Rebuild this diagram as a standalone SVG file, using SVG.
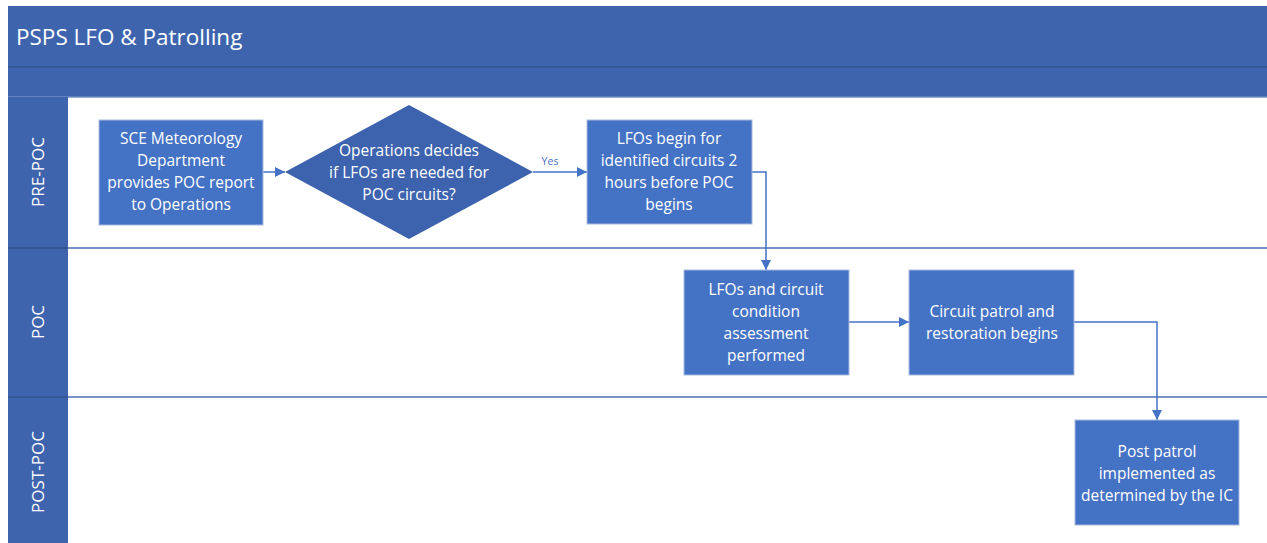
<svg xmlns="http://www.w3.org/2000/svg" width="1267" height="543" viewBox="0 0 1267 543">
<style>
.band{fill:#3E64AE}
.sep{stroke:#345697;stroke-width:2}
.lane{stroke:#4A6FB8;stroke-width:1.5;fill:none}
.box{fill:#4472C4;stroke:#A9BBE0;stroke-width:1}
.dia{fill:#3D63AE}
.t{font-family:"Open Sans","Liberation Sans",sans-serif;font-size:15.5px;fill:#FFFFFF;text-anchor:middle}
.lbl{font-family:"Open Sans","Liberation Sans",sans-serif;font-size:17px;fill:#FFFFFF;text-anchor:middle}
.title{font-family:"Open Sans","Liberation Sans",sans-serif;font-size:22.5px;fill:#FFFFFF}
.yes{font-family:"Open Sans","Liberation Sans",sans-serif;font-size:10.5px;fill:#4472C4;text-anchor:middle}
.con{stroke:#4472C4;stroke-width:1.5;fill:none;marker-end:url(#ah)}
</style>
<defs>
<marker id="ah" viewBox="0 0 10 10" refX="10" refY="5" markerWidth="7" markerHeight="7" markerUnits="strokeWidth" orient="auto">
<path d="M0,0 L10,5 L0,10 z" fill="#4472C4"/>
</marker>
</defs>
<rect x="0" y="0" width="1267" height="543" fill="#FFFFFF"/>
<g id="pool">
<rect class="band" x="8" y="6" width="1259" height="91"/>
<line class="sep" x1="8" y1="67" x2="1267" y2="67"/>
<line x1="8" y1="97" x2="1267" y2="97" stroke="#6F8CC6" stroke-width="1.5"/>
<text class="title" x="16" y="45">PSPS LFO &amp; Patrolling</text>
</g>
<g id="lanes">
<rect class="band" x="8" y="97" width="60" height="446"/>
<line class="sep" x1="8" y1="248" x2="68" y2="248"/>
<line class="sep" x1="8" y1="397" x2="68" y2="397"/>
<line class="lane" x1="68" y1="248" x2="1267" y2="248"/>
<line class="lane" x1="68" y1="397" x2="1267" y2="397"/>
<text class="lbl" transform="translate(44,172) rotate(-90)">PRE-POC</text>
<text class="lbl" transform="translate(44,322) rotate(-90)">POC</text>
<text class="lbl" transform="translate(44,472) rotate(-90)">POST-POC</text>
</g>
<g id="connectors">
<line class="con" x1="263" y1="172" x2="285" y2="172"/>
<line class="con" x1="533" y1="172" x2="587" y2="172"/>
<text class="yes" x="550" y="165">Yes</text>
<polyline class="con" points="752,172 766,172 766,270"/>
<line class="con" x1="849" y1="322" x2="909" y2="322"/>
<polyline class="con" points="1074,322 1157,322 1157,420"/>
</g>
<g id="n1">
<rect class="box" x="99" y="120" width="164" height="105"/>
<text class="t" x="181" y="144">SCE Meteorology</text>
<text class="t" x="181" y="166">Department</text>
<text class="t" x="181" y="188">provides POC report</text>
<text class="t" x="181" y="210">to Operations</text>
</g>
<g id="n2">
<polygon class="dia" points="409,105 533,172 409,239 285,172"/>
<text class="t" x="409" y="156">Operations decides</text>
<text class="t" x="409" y="178">if LFOs are needed for</text>
<text class="t" x="409" y="200">POC circuits?</text>
</g>
<g id="n3">
<rect class="box" x="587" y="120" width="165" height="104"/>
<text class="t" x="669" y="144">LFOs begin for</text>
<text class="t" x="669" y="166">identified circuits 2</text>
<text class="t" x="669" y="188">hours before POC</text>
<text class="t" x="669" y="210">begins</text>
</g>
<g id="n4">
<rect class="box" x="684" y="270" width="165" height="105"/>
<text class="t" x="766" y="295">LFOs and circuit</text>
<text class="t" x="766" y="317">condition</text>
<text class="t" x="766" y="339">assessment</text>
<text class="t" x="766" y="361">performed</text>
</g>
<g id="n5">
<rect class="box" x="909" y="270" width="165" height="105"/>
<text class="t" x="992" y="317">Circuit patrol and</text>
<text class="t" x="992" y="339">restoration begins</text>
</g>
<g id="n6">
<rect class="box" x="1075" y="420" width="164" height="105"/>
<text class="t" x="1157" y="457">Post patrol</text>
<text class="t" x="1157" y="479">implemented as</text>
<text class="t" x="1157" y="501">determined by the IC</text>
</g>
</svg>
